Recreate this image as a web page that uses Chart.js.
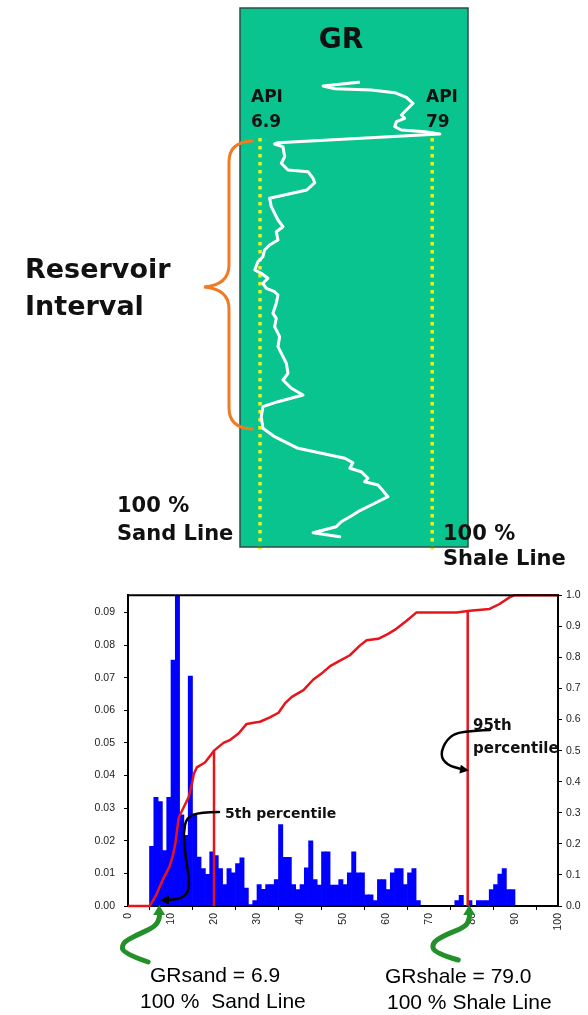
<!DOCTYPE html>
<html><head><meta charset="utf-8">
<script src="https://cdn.jsdelivr.net/npm/chart.js@4.4.1/dist/chart.umd.min.js"></script>
<style>
html,body{margin:0;padding:0;background:#fff;width:588px;height:1015px;overflow:hidden;}
canvas{position:absolute;left:0;}
#top{top:0;width:588px;height:580px;}
#bot{top:580px;width:588px;height:435px;}
</style></head><body>
<canvas id="top" width="588" height="580"></canvas>
<canvas id="bot" width="588" height="435"></canvas>
<script>
// ---------- GR log (API vs depth) ----------
const grApi = [48.2,33.3,38.2,53.5,63.3,68.2,71.0,68.2,66.1,67.5,64.0,63.3,66.1,75.9,82.2,14.4,13.0,16.5,17.2,15.8,18.6,27.0,29.1,29.8,26.5,10.9,11.6,14.4,16.5,13.7,14.4,10.9,8.8,8.1,6.0,4.7,7.4,10.2,8.1,9.5,13.0,14.4,13.7,12.3,13.7,13.0,15.1,14.4,16.5,17.9,18.6,16.5,20.0,24.9,14.4,8.1,7.4,8.1,13.0,22.8,32.6,42.4,45.8,44.5,49.3,52.1,50.7,56.3,60.5,53.5,47.9,45.8,40.9,38.8,29.1,40.3];
const grDepth = [74.3,78,80.7,82,84.7,89.3,95.3,102,107,110.3,113.7,118.7,122,123.7,126,134.7,136,138.7,148.7,155.3,162,163.7,170.3,174.7,182,190.3,198.7,212,218.7,223.7,232,237,242,248.7,253.7,262,265.3,270.3,275.3,280.3,283.7,287,295.3,305.3,310.3,318.7,328.7,338.7,348.7,355.3,365.3,372,380.3,387,393.7,398.7,408.7,420.3,428.7,440.3,445.3,450.3,454.7,460.3,463.7,470.3,473.7,477,488.7,497,503.7,507,513.7,518.7,524.7,528.7];
const grSand = 6.9;
const grShale = 79;
const lineDepthRange = [130, 542];

// ---------- Histogram of GR (bin width 1 API) ----------
const histDensity = [
0,0,0,0,0,0.0183,0.0333,0.032,0.017,0.0333,
0.0754,0.098,0.028,0.0217,0.0705,0.028,0.015,0.0115,0.0097,0.0166,
0.0155,0.0115,0.0066,0.0115,0.0102,0.013,0.0148,0.0055,0.0004,0.0017,
0.0066,0.0051,0.0066,0.0066,0.0081,0.025,0.0149,0.0149,0.0066,0.005,
0.0066,0.0117,0.02,0.0081,0.0064,0.0166,0.0166,0.0064,0.0064,0.0081,
0.0066,0.0102,0.0166,0.0102,0.0102,0.0034,0.0034,0.0017,0.0081,0.0081,
0.005,0.0102,0.0115,0.0115,0.0066,0.0102,0.0115,0.0017,0,0,
0,0,0,0,0,0,0.0017,0.0033,0,0.0017,
0,0.0017,0.0017,0.0017,0.005,0.0066,0.0098,0.0115,0.005,0.005,
0,0,0,0,0,0,0,0,0,0];
const cdfX = [0,5.0,5.5,6.7,8.1,9.6,10.4,11.0,11.8,12.9,14.1,14.9,15.3,16.0,17.9,19.3,20.0,22.2,23.8,25.7,27.6,29.2,30.7,33.0,35.0,36.5,38.1,40.8,43.1,45.0,47.0,49.3,51.6,53.9,55.5,58.2,60.5,62.4,64.8,67.1,76.4,79.5,84.1,86.4,88.8,89.9,100];
const cdfY = [0,0,0.01,0.04,0.085,0.125,0.16,0.2,0.285,0.316,0.35,0.395,0.425,0.446,0.462,0.487,0.5,0.525,0.535,0.555,0.586,0.59,0.593,0.607,0.622,0.652,0.673,0.695,0.729,0.748,0.772,0.79,0.807,0.838,0.855,0.86,0.876,0.892,0.918,0.945,0.945,0.95,0.956,0.972,0.994,1.0,1.0];
const pctX = [20, 79];
const pctY = [0.5, 0.95];

// ---------- helpers ----------
function smoothPath(ctx, pts){
  ctx.beginPath(); ctx.moveTo(pts[0][0], pts[0][1]);
  for (let i=1;i<pts.length-1;i++){
    const mx=(pts[i][0]+pts[i+1][0])/2, my=(pts[i][1]+pts[i+1][1])/2;
    ctx.quadraticCurveTo(pts[i][0], pts[i][1], mx, my);
  }
  const l=pts[pts.length-1]; ctx.lineTo(l[0], l[1]); ctx.stroke();
}
function arrowHead(ctx, tx, ty, ang, len, hw){
  ctx.beginPath();
  ctx.moveTo(tx, ty);
  ctx.lineTo(tx - len*Math.cos(ang) + hw*Math.sin(ang), ty - len*Math.sin(ang) - hw*Math.cos(ang));
  ctx.lineTo(tx - len*Math.cos(ang) - hw*Math.sin(ang), ty - len*Math.sin(ang) + hw*Math.cos(ang));
  ctx.closePath(); ctx.fill();
}
Chart.defaults.animation = false;
Chart.defaults.plugins.legend.display = false;
Chart.defaults.plugins.tooltip.enabled = false;

// ---------- top chart ----------
const logPlugin = {
  id:'logPanel',
  beforeDatasetsDraw(c){
    const {ctx, chartArea:a} = c;
    ctx.save(); ctx.fillStyle = '#0ac48f';
    ctx.fillRect(a.left, a.top, a.right-a.left, a.bottom-a.top);
    ctx.restore();
  },
  afterDraw(c){
    const {ctx, chartArea:a} = c;
    ctx.save();
    ctx.strokeStyle = '#2d4d48'; ctx.lineWidth = 1.5;
    ctx.strokeRect(a.left, a.top, a.right-a.left, a.bottom-a.top);
    // brace
    ctx.strokeStyle = '#ef7b24'; ctx.lineWidth = 3; ctx.lineCap='round';
    ctx.beginPath();
    ctx.moveTo(252,141); ctx.quadraticCurveTo(229,142,229,162);
    ctx.lineTo(229,265); ctx.quadraticCurveTo(229,285,204,287);
    ctx.quadraticCurveTo(229,289,229,309);
    ctx.lineTo(229,408); ctx.quadraticCurveTo(229,428,252,429);
    ctx.stroke();
    ctx.fillStyle = '#111';
    ctx.textBaseline = 'alphabetic';
    ctx.font = 'bold 28px "DejaVu Sans"'; ctx.textAlign='center';
    ctx.fillText('GR', 341, 48);
    ctx.textAlign='left';
    ctx.font = 'bold 17px "DejaVu Sans"';
    ctx.fillText('API', 251, 102); ctx.fillText('6.9', 251, 127);
    ctx.fillText('API', 426, 102); ctx.fillText('79', 426, 127);
    ctx.font = 'bold 27px "DejaVu Sans"';
    ctx.fillText('Reservoir', 25, 278); ctx.fillText('Interval', 25, 315);
    ctx.font = 'bold 21px "DejaVu Sans"';
    ctx.fillText('100 %', 117, 512); ctx.fillText('Sand Line', 117, 540);
    ctx.fillText('100 %', 443, 540); ctx.fillText('Shale Line', 443, 565);
    ctx.restore();
  }
};
new Chart(document.getElementById('top'), {
  type:'scatter',
  data:{ datasets:[
    { data: grApi.map((v,i)=>({x:v, y:grDepth[i]})), showLine:true, borderColor:'#ffffff', borderWidth:3,
      pointRadius:0, tension:0, borderJoinStyle:'round', borderCapStyle:'round', order:0, clip:false },
    { data: lineDepthRange.map(d=>({x:grSand, y:d})), showLine:true, borderColor:'#e3f51c', borderWidth:3.5,
      borderDash:[3.5,4.5], pointRadius:0, order:1, clip:false },
    { data: lineDepthRange.map(d=>({x:grShale, y:d})), showLine:true, borderColor:'#e3f51c', borderWidth:3.5,
      borderDash:[3.5,4.5], pointRadius:0, order:1, clip:false }
  ]},
  options:{
    responsive:false, devicePixelRatio:1,
    layout:{padding:{left:240, right:120, top:8, bottom:33}},
    scales:{
      x:{type:'linear', min:-1.5, max:94, display:false},
      y:{type:'linear', min:0, max:539, reverse:true, display:false}
    }
  },
  plugins:[logPlugin]
});

// ---------- bottom chart ----------
const OFF = 580;
const annoPlugin = {
  id:'anno',
  afterDatasetsDraw(c){
    const {ctx, chartArea:a} = c;
    ctx.save(); ctx.strokeStyle='#000'; ctx.lineWidth=2;
    ctx.beginPath(); ctx.moveTo(a.left-1, a.top); ctx.lineTo(a.right+1, a.top); ctx.stroke();
    ctx.restore();
  },
  afterDraw(c){
    const {ctx} = c; const xs = c.scales.x;
    ctx.save();
    ctx.lineCap='round'; ctx.lineJoin='round';
    // black arrows
    ctx.strokeStyle='#000'; ctx.fillStyle='#000'; ctx.lineWidth=2.5;
    smoothPath(ctx, [[219,812-OFF],[200,812.3-OFF],[186.7,817-OFF],[183.3,833-OFF],[185,853-OFF],[188.3,873-OFF],[189.5,890-OFF],[182,898.5-OFF],[168,900-OFF]]);
    arrowHead(ctx, 160, 900-OFF, Math.PI, 9, 4.5);
    smoothPath(ctx, [[490,730-OFF],[460,731-OFF],[446.7,739-OFF],[440,755-OFF],[447,765-OFF],[461,769-OFF]]);
    arrowHead(ctx, 469, 770.5-OFF, 0.15, 9, 4.5);
    // green arrows
    ctx.strokeStyle='#23902a'; ctx.fillStyle='#23902a'; ctx.lineWidth=5;
    const sx = xs.getPixelForValue(grSand)+1.5, hx = xs.getPixelForValue(grShale)+1.5;
    smoothPath(ctx, [[sx-11,962-OFF],[sx-36,953.3-OFF],[sx-37.5,943.3-OFF],[sx-22.5,935-OFF],[sx-4,926.7-OFF],[sx+0.5,918-OFF],[sx,913-OFF]]);
    arrowHead(ctx, sx, 905-OFF, -Math.PI/2, 10, 6);
    smoothPath(ctx, [[hx-11,960-OFF],[hx-34.5,953.3-OFF],[hx-37.5,943.3-OFF],[hx-24.5,935-OFF],[hx-3,926.7-OFF],[hx+0.5,917-OFF],[hx,913-OFF]]);
    arrowHead(ctx, hx, 905-OFF, -Math.PI/2, 10, 6);
    // texts
    ctx.fillStyle='#111'; ctx.textAlign='left'; ctx.textBaseline='alphabetic';
    ctx.font='bold 14px "DejaVu Sans"';
    ctx.fillText('5th percentile', 225, 818-OFF);
    ctx.font='bold 15px "DejaVu Sans"';
    ctx.fillText('95th', 473, 730-OFF); ctx.fillText('percentile', 473, 753-OFF);
    ctx.fillStyle='#000';
    ctx.font='21px "Liberation Sans"';
    ctx.fillText('GRsand = 6.9', 150, 982-OFF);
    ctx.fillText('100 %  Sand Line', 140, 1008-OFF);
    ctx.fillText('GRshale = 79.0', 385, 983-OFF);
    ctx.fillText('100 % Shale Line', 387, 1009-OFF);
    ctx.restore();
  }
};
const tickFont = {family:'"Liberation Sans"', size:10.5};
new Chart(document.getElementById('bot'), {
  type:'bar',
  data:{ datasets:[
    { type:'line', data: cdfX.map((v,i)=>({x:v, y:cdfY[i]})), yAxisID:'y1', borderColor:'#e8141c', borderWidth:2.5,
      pointRadius:0, tension:0, borderJoinStyle:'round', clip:false, order:0 },
    { type:'line', data: [{x:pctX[0], y:0},{x:pctX[0], y:pctY[0]}], yAxisID:'y1', borderColor:'#e8141c', borderWidth:2.5,
      pointRadius:0, clip:false, order:0 },
    { type:'line', data: [{x:pctX[1], y:0},{x:pctX[1], y:pctY[1]}], yAxisID:'y1', borderColor:'#e8141c', borderWidth:2.5,
      pointRadius:0, clip:false, order:0 },
    { type:'bar', data: histDensity.map((v,i)=>({x:i+0.5, y: v>0 ? v : null})), yAxisID:'y',
      backgroundColor:'#0000ff', borderWidth:0, barPercentage:1, categoryPercentage:1, order:1 }
  ]},
  options:{
    responsive:false, devicePixelRatio:1,
    layout:{padding:{top:13, left:0, right:0, bottom:0}},
    scales:{
      x:{type:'linear', position:'bottom', min:0, max:100, offset:false,
        ticks:{stepSize:10, minRotation:90, maxRotation:90, color:'#222', font:tickFont, padding:3},
        grid:{display:true, drawOnChartArea:false, drawTicks:true, tickLength:4, color:'#000'},
        border:{display:true, color:'#000', width:2},
        afterFit(s){ s.height = 109; }
      },
      y:{type:'linear', position:'left', min:0, max:0.0953,
        ticks:{stepSize:0.01, includeBounds:false, color:'#222', font:tickFont, padding:9, callback:v=>v.toFixed(2)},
        grid:{display:true, drawOnChartArea:false, drawTicks:true, tickLength:4, color:'#000'},
        border:{display:true, color:'#000', width:2},
        afterFit(s){ s.width = 128; }
      },
      y1:{type:'linear', position:'right', min:0, max:1,
        ticks:{stepSize:0.1, color:'#222', font:tickFont, padding:4, callback:v=>v.toFixed(1)},
        grid:{display:true, drawOnChartArea:false, drawTicks:true, tickLength:4, color:'#000'},
        border:{display:true, color:'#000', width:2},
        afterFit(s){ s.width = 30; }
      }
    }
  },
  plugins:[annoPlugin]
});
</script>
</body></html>
